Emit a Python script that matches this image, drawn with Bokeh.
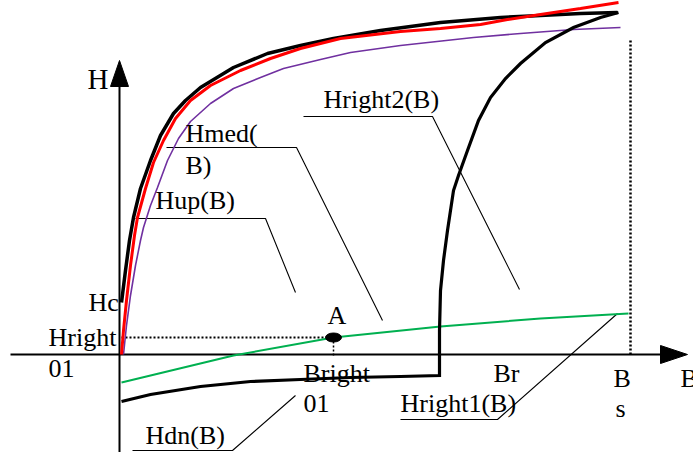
from bokeh.plotting import figure
from bokeh.models import Range1d
from bokeh.core.properties import value
from bokeh.embed import file_html
from bokeh.resources import INLINE

# Magnetisation curves H(B), arbitrary units
hmed_b = [0.02, 0.06, 0.10, 0.14, 0.21, 0.31, 0.41, 0.54, 0.66, 0.81, 1.14, 1.48,
          1.81, 2.14, 2.61, 3.21, 3.81, 4.21, 4.61, 4.98]
hmed_h = [0.52, 0.84, 1.14, 1.37, 1.66, 1.94, 2.19, 2.41, 2.54, 2.67, 2.87, 3.01,
          3.09, 3.16, 3.24, 3.32, 3.37, 3.39, 3.41, 3.42]

hup_b = [0.02, 0.04, 0.07, 0.11, 0.15, 0.18, 0.26, 0.34, 0.44, 0.56, 0.71, 0.91,
         1.21, 1.51, 1.81, 2.21, 2.81, 3.21, 3.61, 3.88, 4.21, 4.61, 4.99]
hup_h = [0.00, 0.24, 0.54, 0.89, 1.19, 1.37, 1.66, 1.92, 2.14, 2.36, 2.54, 2.69,
         2.84, 2.96, 3.06, 3.16, 3.23, 3.26, 3.30, 3.35, 3.40, 3.46, 3.52]

hlow_b = [0.04, 0.07, 0.11, 0.16, 0.21, 0.24, 0.31, 0.38, 0.48, 0.59, 0.71, 0.91,
          1.14, 1.41, 1.64, 2.01, 2.31, 2.81, 3.54, 4.01, 4.54, 5.01]
hlow_h = [0.00, 0.29, 0.59, 0.89, 1.14, 1.27, 1.49, 1.67, 1.94, 2.16, 2.33, 2.51,
          2.66, 2.77, 2.86, 2.95, 3.02, 3.09, 3.17, 3.21, 3.25, 3.27]

hright2_b = [4.99, 4.81, 4.54, 4.26, 4.01, 3.86, 3.71, 3.59, 3.48, 3.39, 3.34, 3.28,
             3.24, 3.21, 3.20, 3.20]
hright2_h = [3.42, 3.37, 3.27, 3.12, 2.91, 2.76, 2.57, 2.34, 2.04, 1.79, 1.64, 1.24,
             0.94, 0.64, 0.24, -0.21]

hdn_b = [3.20, 2.81, 2.31, 1.81, 1.31, 0.81, 0.31, 0.02]
hdn_h = [-0.21, -0.22, -0.23, -0.25, -0.27, -0.32, -0.40, -0.47]

hright1_b = [0.02, 1.14, 2.14, 3.21, 4.21, 5.09]
hright1_h = [-0.28, -0.01, 0.17, 0.28, 0.36, 0.41]

# Characteristic points
b_a, h_a = 2.14, 0.17          # operating point A = (Bright01, Hright01)
b_s, h_s_top = 5.11, 3.14      # saturation induction Bs

# Axes extents
b_axis = (-1.09, 5.41)
h_axis = (-0.98, 2.68)

# Callout leader lines (label underline + pointer)
leaders = {
    "Hright2": ([1.84, 3.13, 4.00], [2.38, 2.38, 0.65]),
    "Hmed":    ([0.47, 1.77, 2.63], [2.07, 2.07, 0.34]),
    "Hup":     ([0.16, 1.46, 1.76], [1.36, 1.36, 0.62]),
    "Hright1": ([2.81, 3.78, 4.98], [-0.65, -0.65, 0.41]),
    "Hdn":     ([0.13, 1.13, 1.76], [-0.96, -0.96, -0.41]),
}

labels = ["Hmed(", "B)", "Hup(B)", "Hright2(B)", "Hc", "Hright", "01", "A",
          "Bright", "01", "Br", "B", "s", "B", "Hright1(B)", "Hdn(B)"]
label_b = [0.66, 0.66, 0.36, 2.04, -0.31, -0.71, -0.71, 2.08,
           1.84, 1.84, 3.74, 4.94, 4.96, 5.61, 2.81, 0.26]
label_h = [2.21, 1.89, 1.54, 2.55, 0.52, 0.17, -0.14, 0.39,
           -0.19, -0.49, -0.19, -0.24, -0.54, -0.24, -0.49, -0.81]

p = figure(width=693, height=452, output_backend="svg", toolbar_location=None,
           x_range=Range1d(-1.19, 5.74), y_range=Range1d(-0.98, 3.54),
           x_axis_location=None, y_axis_location=None, min_border=0,
           background_fill_color="white", border_fill_color="white",
           outline_line_color=None)
p.grid.visible = False

FONT = value("Liberation Serif")

# coordinate axes with arrowheads
p.line(list(b_axis), [0, 0], line_color="black", line_width=2)
p.line([0, 0], list(h_axis), line_color="black", line_width=2)
head_len, head_half = 0.27, 0.09
p.patch([b_axis[1], b_axis[1], b_axis[1] + head_len], [-head_half, head_half, 0],
        fill_color="black", line_color="black")
p.patch([-head_half, head_half, 0], [h_axis[1], h_axis[1], h_axis[1] + 0.26],
        fill_color="black", line_color="black")

# dotted construction lines
p.line([0.02, b_a], [h_a, h_a], line_color="black", line_width=2, line_dash="2 2")
p.line([b_a, b_a], [h_a, -0.03], line_color="black", line_width=1.5, line_dash="2 2")
p.line([b_s, b_s], [h_s_top, 0], line_color="black", line_width=2.5, line_dash="2 2")

# leader lines
for xs, ys in leaders.values():
    p.line(xs, ys, line_color="black", line_width=1.1)

# curves
p.line(hlow_b, hlow_h, line_color="#7030A0", line_width=1.6)
p.line(hright1_b, hright1_h, line_color="#00B050", line_width=2)
p.line(hmed_b, hmed_h, line_color="black", line_width=3.5)
p.line(hup_b, hup_h, line_color="#FF0000", line_width=3)
p.line(hright2_b + hdn_b, hright2_h + hdn_h, line_color="black", line_width=3.2,
       line_join="miter")

# operating point A
p.ellipse(x=[b_a], y=[h_a], width=0.16, height=0.09,
          fill_color="black", line_color="black")

# labels
p.text(x=label_b, y=label_h, text=labels, text_font=FONT, text_font_size="26px",
       text_baseline="alphabetic", text_align="left", text_color="black")
p.text(x=[-0.32], y=[2.76], text=["H"], text_font=FONT, text_font_size="29px",
       text_baseline="alphabetic", text_align="left", text_color="black")

open("out.html", "w").write(file_html(p, INLINE))
